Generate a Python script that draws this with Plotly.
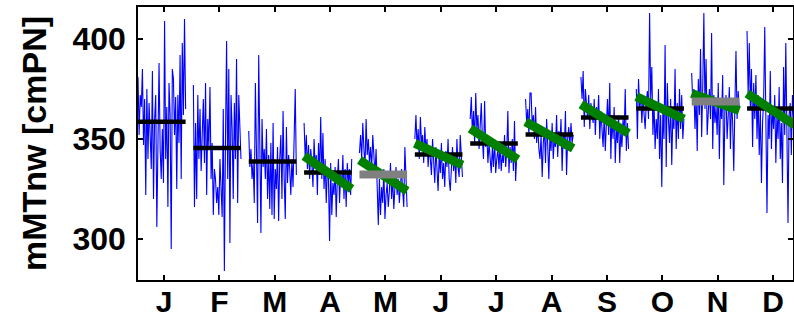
import plotly.graph_objects as go

months = ["J", "F", "M", "A", "M", "J", "J", "A", "S", "O", "N", "D"]

jan = [381, 352, 372, 366, 385, 347, 370, 322, 375, 340, 368, 355, 335, 384, 320, 360, 372, 306, 350, 388, 345, 330,
       355, 328, 409, 340, 366, 316, 378, 362, 295, 385, 380, 352, 371, 325, 372, 348, 392, 330, 398, 362, 410, 365]
feb = [377, 316, 358, 320, 372, 340, 365, 334, 352, 370, 338, 378, 322, 360, 346, 376, 330, 348, 312, 335, 330, 318,
       326, 312, 340, 322, 311, 365, 284, 350, 399, 330, 385, 298, 372, 355, 320, 368, 340, 390, 318, 372, 350, 340]
mar = [354, 336, 345, 330, 338, 318, 378, 340, 308, 392, 350, 303, 360, 336, 345, 330, 355, 320, 342, 315, 348, 312,
       358, 310, 335, 325, 346, 309, 340, 352, 320, 364, 330, 310, 356, 328, 342, 335, 322, 340, 326, 348, 375, 332]
apr = [358, 340, 352, 335, 347, 330, 345, 338, 326, 350, 336, 342, 322, 348, 332, 361, 330, 353, 325, 340, 318, 335,
       330, 299, 338, 312, 328, 322, 336, 311, 330, 340, 318, 332, 326, 342, 320, 335, 316, 338, 328, 335, 322, 340]
may = [343, 352, 340, 358, 345, 336, 360, 342, 350, 338, 346, 335, 352, 340, 332, 345, 322, 307, 330, 312, 326, 318,
       335, 310, 322, 328, 316, 324, 338, 320, 330, 315, 326, 336, 322, 330, 318, 328, 335, 324, 316, 346, 330, 316]
jun = [350, 362, 345, 355, 340, 361, 348, 352, 338, 356, 344, 350, 336, 346, 340, 332, 350, 338, 328, 346, 335, 324,
       342, 333, 348, 330, 338, 326, 344, 336, 350, 330, 324, 340, 346, 334, 342, 328, 350, 336, 331, 352, 340, 331]
jul = [360, 371, 352, 364, 348, 373, 355, 362, 345, 358, 368, 350, 340, 369, 346, 352, 338, 348, 342, 333, 346, 336,
       350, 333, 340, 345, 335, 348, 334, 342, 338, 352, 336, 344, 364, 333, 346, 338, 350, 334, 359, 329, 342, 340]
aug = [370, 358, 365, 352, 373, 373, 356, 362, 350, 366, 348, 357, 345, 340, 352, 331, 348, 355, 338, 360, 347, 330,
       352, 344, 358, 340, 350, 346, 362, 341, 354, 348, 360, 334, 352, 345, 364, 332, 350, 356, 346, 358, 348, 352]
sep = [381, 370, 384, 356, 375, 364, 360, 372, 355, 368, 362, 358, 370, 352, 366, 360, 372, 350, 364, 357, 346, 362,
       344, 358, 370, 352, 378, 340, 362, 350, 366, 338, 356, 348, 362, 338, 354, 346, 360, 352, 375, 344, 358, 345]
oct_ = [375, 350, 380, 366, 372, 358, 370, 362, 355, 368, 374, 360, 413, 370, 386, 352, 368, 345, 360, 350, 375, 340,
        362, 326, 365, 350, 397, 336, 378, 360, 348, 370, 337, 362, 355, 385, 345, 368, 350, 375, 355, 372, 350, 360]
nov = [383, 368, 375, 355, 372, 344, 380, 362, 395, 351, 376, 413, 365, 390, 352, 368, 375, 360, 403, 345, 372, 358,
       366, 352, 378, 340, 368, 360, 382, 327, 365, 372, 350, 362, 376, 345, 370, 358, 334, 366, 394, 360, 374, 365]
dec = [404, 372, 398, 365, 385, 346, 378, 360, 382, 350, 372, 342, 365, 328, 358, 370, 406, 340, 313, 362, 350, 384,
       345, 366, 355, 372, 338, 362, 350, 376, 340, 358, 328, 386, 352, 398, 345, 308, 362, 368, 342, 372, 360, 350]
series = [jan, feb, mar, apr, may, jun, jul, aug, sep, oct_, nov, dec]

means = [358.6, 345.5, 338.8, 333.3, 332.3, 342.2, 347.7, 352.2, 360.8, 365.2, 368.7, 365.2]
mean_gray = [False, False, False, False, True, False, False, False, False, False, True, False]
trend_start = [None, None, None, 341.5, 339.5, 347.8, 355.3, 358.6, 367.3, 371.2, 372.8, 372.8]
trend_end = [None, None, None, 325.0, 324.0, 337.0, 339.8, 345.3, 352.8, 360.0, 364.2, 357.0]

OFF0, OFF1 = -0.47, 0.39

bx, by = [], []
kx, ky = [], []
gx, gy = [], []
tx, ty = [], []
for i, vals in enumerate(series):
    m = i + 1
    n = len(vals)
    for j, v in enumerate(vals):
        bx.append(m + OFF0 + (OFF1 - OFF0) * j / (n - 1))
        by.append(v)
    bx.append(None); by.append(None)
    if mean_gray[i]:
        gx += [m + OFF0, m + OFF1, None]; gy += [means[i], means[i], None]
    else:
        kx += [m + OFF0, m + OFF1, None]; ky += [means[i], means[i], None]
    if trend_start[i] is not None:
        tx += [m + OFF0, m + OFF1, None]; ty += [trend_start[i], trend_end[i], None]

fig = go.Figure()
fig.add_trace(go.Scatter(x=bx, y=by, mode="lines", line=dict(color="#0000ff", width=1.1), connectgaps=False))
fig.add_trace(go.Scatter(x=kx, y=ky, mode="lines", line=dict(color="black", width=4.5)))
fig.add_trace(go.Scatter(x=tx, y=ty, mode="lines", line=dict(color="#008000", width=9)))
fig.add_trace(go.Scatter(x=gx, y=gy, mode="lines", line=dict(color="#808080", width=8)))

FAM = "Liberation Sans, Arial, sans-serif"
font = dict(family=FAM, size=32, color="black", weight="bold")
fig.update_layout(
    width=794, height=323,
    margin=dict(l=138, r=1, t=7, b=43),
    paper_bgcolor="white", plot_bgcolor="white",
    showlegend=False,
    font=font,
    xaxis=dict(range=[0.53, 12.36], tickmode="array", tickvals=list(range(1, 13)), ticktext=months,
               ticks="inside", ticklen=5, tickwidth=1.5, tickcolor="black",
               showline=True, linecolor="black", linewidth=1.5, mirror="ticks",
               showgrid=False, zeroline=False, tickfont=dict(family=FAM, size=30, color="black", weight="bold"),
               automargin=False, ticklabelstandoff=-6),
    yaxis=dict(range=[279.5, 416], tickvals=[300, 350, 400],
               ticks="inside", ticklen=5, tickwidth=1.5, tickcolor="black",
               showline=True, linecolor="black", linewidth=1.5, mirror="ticks",
               showgrid=False, zeroline=False, tickfont=font, automargin=False, ticklabelstandoff=4,
               title=dict(text="mMTnw [cmPN]", font=dict(family=FAM, size=34, color="black", weight="bold"),
                          standoff=16)),
)
fig.write_html("out.html", config={"displayModeBar": False},
               post_script="document.body.style.margin='0';document.body.style.padding='0';")
